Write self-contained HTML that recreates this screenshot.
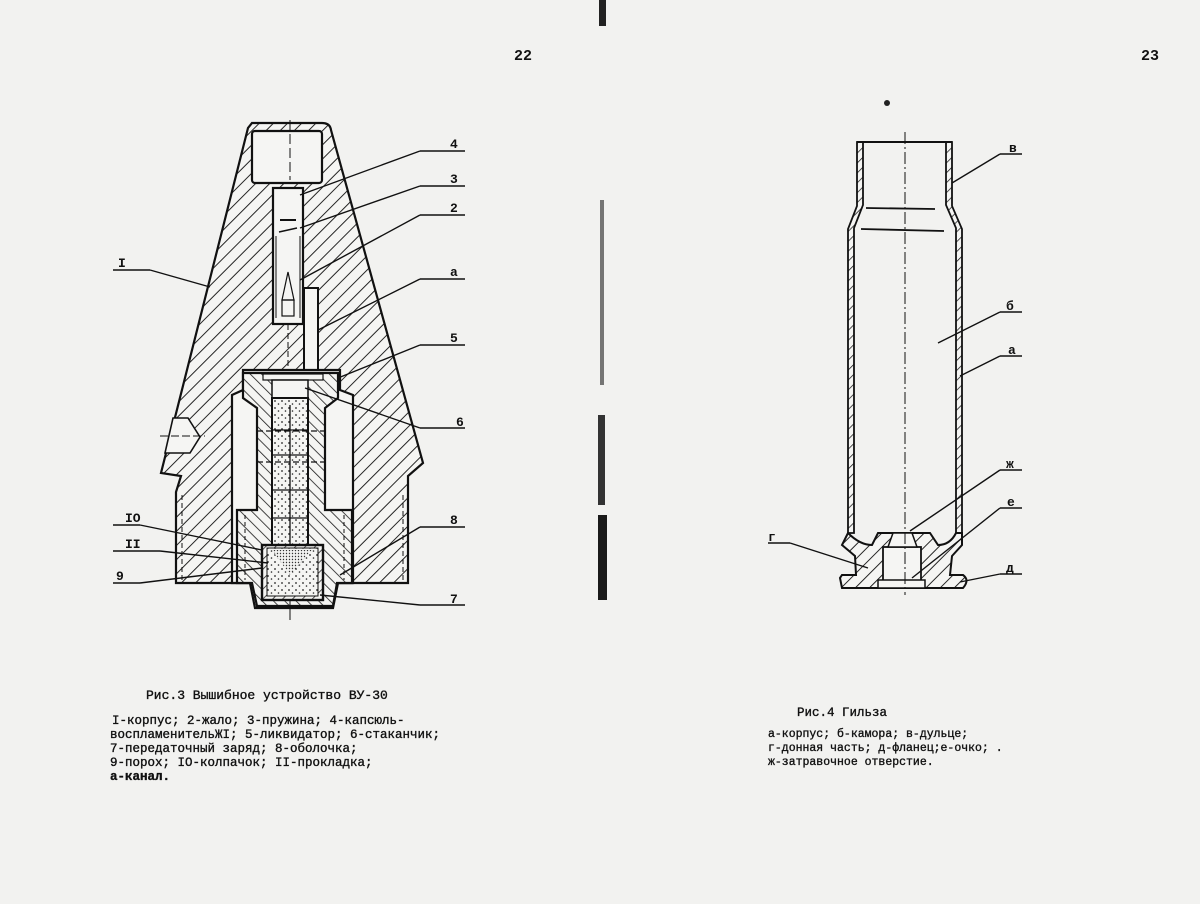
<!DOCTYPE html>
<html><head><meta charset="utf-8">
<style>
html,body{margin:0;padding:0;background:#f2f2f0;}
svg{display:block}
text{font-family:"Liberation Mono","DejaVu Sans Mono",monospace;fill:#111}
.cap{stroke:#111;stroke-width:0.35}
</style></head>
<body>
<svg width="1200" height="904" viewBox="0 0 1200 904" xmlns="http://www.w3.org/2000/svg">
<defs>
<pattern id="h1" width="10" height="10" patternUnits="userSpaceOnUse" patternTransform="rotate(45)">
<rect width="10" height="10" fill="#f5f5f3"/><line x1="0" y1="0" x2="0" y2="10" stroke="#1a1a1a" stroke-width="1.9"/></pattern>
<pattern id="h2" width="8" height="8" patternUnits="userSpaceOnUse" patternTransform="rotate(-45)">
<rect width="8" height="8" fill="#f5f5f3"/><line x1="0" y1="0" x2="0" y2="8" stroke="#1a1a1a" stroke-width="1.6"/></pattern>
<pattern id="h3" width="7" height="7" patternUnits="userSpaceOnUse" patternTransform="rotate(45)">
<rect width="7" height="7" fill="#f5f5f3"/><line x1="0" y1="0" x2="0" y2="7" stroke="#1a1a1a" stroke-width="1.5"/></pattern>
<pattern id="dots" width="7" height="7" patternUnits="userSpaceOnUse">
<rect width="7" height="7" fill="#f5f5f3"/><circle cx="2" cy="2" r="0.9" fill="#222"/><circle cx="5.5" cy="5" r="0.8" fill="#222"/></pattern>
<pattern id="fine" width="3" height="3" patternUnits="userSpaceOnUse">
<rect width="3" height="3" fill="#f2f2f0"/><circle cx="1.5" cy="1.5" r="0.7" fill="#333"/></pattern>
</defs>

<!-- binding marks -->
<rect x="599" y="0" width="7" height="26" fill="#222"/>
<rect x="600" y="200" width="4" height="185" fill="#555" opacity="0.8"/>
<rect x="598" y="415" width="7" height="90" fill="#333"/>
<rect x="598" y="515" width="9" height="85" fill="#1a1a1a"/>
<circle cx="887" cy="103" r="3" fill="#222"/>

<!-- page numbers -->
<text x="514" y="60" font-size="15" font-weight="bold">22</text>
<text x="1141" y="60" font-size="15" font-weight="bold">23</text>

<!-- ============ LEFT FIGURE ============ -->
<path d="M252,123 L322,123 Q330,123 331,130 L423,463 L408,476 L408,583 L338,583 L333,608 L255,608 L250,583 L176,583 L176,492 L181,476 L161,473 L248,128 Z" fill="url(#h1)" stroke="#111" stroke-width="2.2"/>
<path d="M173,418 L188,418 L200,437 L190,453 L165,453 Z" fill="#f5f5f3" stroke="#111" stroke-width="1.6"/>
<line x1="160" y1="436" x2="205" y2="436" stroke="#111" stroke-width="1" stroke-dasharray="8,3"/>
<line x1="182" y1="495" x2="182" y2="580" stroke="#111" stroke-width="1" stroke-dasharray="5,3"/>
<line x1="403" y1="495" x2="403" y2="580" stroke="#111" stroke-width="1" stroke-dasharray="5,3"/>
<rect x="252" y="131" width="70" height="52" rx="3" fill="#f5f5f3" stroke="#111" stroke-width="2.2"/>
<rect x="273" y="188" width="30" height="136" fill="#f5f5f3" stroke="#111" stroke-width="2.2"/>
<line x1="280" y1="220" x2="296" y2="220" stroke="#111" stroke-width="2"/>
<line x1="279" y1="232" x2="297" y2="228" stroke="#111" stroke-width="1.5"/>
<path d="M288,272 L282,300 L294,300 Z" fill="none" stroke="#111" stroke-width="1.2"/>
<rect x="282" y="300" width="12" height="16" fill="none" stroke="#111" stroke-width="1.2"/>
<line x1="276" y1="236" x2="276" y2="318" stroke="#111" stroke-width="1"/>
<line x1="300" y1="236" x2="300" y2="318" stroke="#111" stroke-width="1"/>
<rect x="304" y="288" width="14" height="84" fill="#f5f5f3" stroke="#111" stroke-width="2"/>
<line x1="288" y1="324" x2="288" y2="372" stroke="#111" stroke-width="1" stroke-dasharray="6,3"/>
<path d="M243,370 L340,370 L340,390 L353,395 L353,583 L232,583 L232,395 L243,390 Z" fill="#f5f5f3" stroke="#111" stroke-width="2.2"/>
<path d="M243,373 L338,373 L338,398 L325,408 L325,510 L352,510 L352,583 L337,583 L333,606 L257,606 L252,583 L237,583 L237,510 L257,510 L257,408 L243,398 Z" fill="url(#h2)" stroke="#111" stroke-width="2.2"/>
<line x1="245" y1="515" x2="245" y2="580" stroke="#111" stroke-width="1" stroke-dasharray="4,3"/>
<line x1="344" y1="515" x2="344" y2="580" stroke="#111" stroke-width="1" stroke-dasharray="4,3"/>
<rect x="263" y="374" width="60" height="6" fill="#f5f5f3" stroke="#111" stroke-width="1.2"/>
<rect x="272" y="380" width="36" height="18" fill="#f5f5f3" stroke="#111" stroke-width="1.5"/>
<rect x="272" y="398" width="36" height="147" fill="url(#dots)" stroke="#111" stroke-width="2"/>
<g stroke="#111" stroke-width="1.3">
<line x1="272" y1="430" x2="308" y2="430"/><line x1="272" y1="455" x2="308" y2="455"/>
<line x1="272" y1="490" x2="308" y2="490"/><line x1="272" y1="518" x2="308" y2="518"/>
<line x1="290" y1="405" x2="290" y2="545"/>
<line x1="257" y1="431" x2="325" y2="431" stroke-dasharray="6,3"/>
<line x1="257" y1="462" x2="325" y2="462" stroke-dasharray="6,3"/>
</g>
<rect x="262" y="545" width="61" height="55" fill="url(#h3)" stroke="#111" stroke-width="2.4"/>
<rect x="267" y="548" width="51" height="48" fill="url(#dots)" stroke="#111" stroke-width="1"/>
<path d="M272,550 L290,575 L312,550 Z" fill="url(#fine)"/>
<line x1="290" y1="120" x2="290" y2="180" stroke="#111" stroke-width="1" stroke-dasharray="10,4"/>
<line x1="290" y1="600" x2="290" y2="620" stroke="#111" stroke-width="1"/>

<g stroke="#111" stroke-width="1.4" fill="none">
<line x1="420" y1="151" x2="465" y2="151"/><line x1="420" y1="151" x2="300" y2="195"/>
<line x1="420" y1="186" x2="465" y2="186"/><line x1="420" y1="186" x2="300" y2="228"/>
<line x1="420" y1="215" x2="465" y2="215"/><line x1="420" y1="215" x2="300" y2="280"/>
<line x1="420" y1="279" x2="465" y2="279"/><line x1="420" y1="279" x2="318" y2="330"/>
<line x1="420" y1="345" x2="465" y2="345"/><line x1="420" y1="345" x2="338" y2="378"/>
<line x1="420" y1="428" x2="465" y2="428"/><line x1="420" y1="428" x2="305" y2="388"/>
<line x1="420" y1="527" x2="465" y2="527"/><line x1="420" y1="527" x2="340" y2="575"/>
<line x1="420" y1="605" x2="465" y2="605"/><line x1="420" y1="605" x2="320" y2="595"/>
<line x1="113" y1="270" x2="150" y2="270"/><line x1="150" y1="270" x2="210" y2="287"/>
<line x1="113" y1="525" x2="140" y2="525"/><line x1="140" y1="525" x2="262" y2="550"/>
<line x1="113" y1="551" x2="160" y2="551"/><line x1="160" y1="551" x2="268" y2="563"/>
<line x1="113" y1="583" x2="140" y2="583"/><line x1="140" y1="583" x2="262" y2="568"/>
</g>
<g font-size="13" font-weight="bold">
<text x="450" y="148">4</text><text x="450" y="183">3</text><text x="450" y="212">2</text>
<text x="450" y="276">а</text><text x="450" y="342">5</text><text x="456" y="426">6</text>
<text x="450" y="524">8</text><text x="450" y="603">7</text>
<text x="118" y="267">I</text><text x="125" y="522">IO</text><text x="125" y="548">II</text><text x="116" y="580">9</text>
</g>

<text x="146" y="699" font-size="13" class="cap">Рис.3 Вышибное устройство ВУ-30</text>
<g font-size="12.5" class="cap">
<text x="112" y="724">I-корпус; 2-жало; 3-пружина; 4-капсюль-</text>
<text x="110" y="738">воспламенительЖI; 5-ликвидатор; 6-стаканчик;</text>
<text x="110" y="752">7-передаточный заряд; 8-оболочка;</text>
<text x="110" y="766">9-порох; IO-колпачок; II-прокладка;</text>
<text x="110" y="780" font-weight="bold">а-канал.</text>
</g>

<!-- ============ RIGHT FIGURE ============ -->
<path d="M857,142 L863,142 L863,205 L854,228 L854,533 L848,533 L848,229 L857,206 Z" fill="url(#h3)" stroke="#111" stroke-width="1.8"/>
<path d="M946,142 L952,142 L952,206 L962,229 L962,533 L956,533 L956,228 L946,205 Z" fill="url(#h3)" stroke="#111" stroke-width="1.8"/>
<line x1="857" y1="142" x2="952" y2="142" stroke="#111" stroke-width="2"/>
<line x1="866" y1="208" x2="935" y2="209" stroke="#111" stroke-width="1.8"/>
<line x1="861" y1="229" x2="944" y2="231" stroke="#111" stroke-width="1.8"/>
<path d="M848,533 Q860,545 872,545 L878,533 L930,533 L938,545 Q950,545 956,533 L962,533 L962,545 L952,556 L950,575 L963,575 Q970,580 963,588 L842,588 L840,578 L842,575 L856,575 L855,556 L842,545 Z" fill="url(#h1)" stroke="#111" stroke-width="2"/>
<rect x="883" y="547" width="38" height="36" fill="#f5f5f3" stroke="#111" stroke-width="1.8"/>
<rect x="878" y="580" width="47" height="8" fill="#f5f5f3" stroke="#111" stroke-width="1.5"/>
<path d="M893,533 L912,533 L917,547 L888,547 Z" fill="#f5f5f3" stroke="#111" stroke-width="1.5"/>
<line x1="905" y1="132" x2="905" y2="595" stroke="#111" stroke-width="1" stroke-dasharray="12,3,2,3"/>
<g stroke="#111" stroke-width="1.4" fill="none">
<line x1="1000" y1="154" x2="1022" y2="154"/><line x1="1000" y1="154" x2="952" y2="183"/>
<line x1="1000" y1="312" x2="1022" y2="312"/><line x1="1000" y1="312" x2="938" y2="343"/>
<line x1="1000" y1="356" x2="1022" y2="356"/><line x1="1000" y1="356" x2="960" y2="376"/>
<line x1="1000" y1="470" x2="1022" y2="470"/><line x1="1000" y1="470" x2="910" y2="531"/>
<line x1="1000" y1="508" x2="1022" y2="508"/><line x1="1000" y1="508" x2="912" y2="578"/>
<line x1="1000" y1="574" x2="1022" y2="574"/><line x1="1000" y1="574" x2="960" y2="582"/>
<line x1="768" y1="543" x2="790" y2="543"/><line x1="790" y1="543" x2="868" y2="568"/>
</g>
<g font-size="13" font-weight="bold">
<text x="1009" y="152">в</text><text x="1006" y="310">б</text><text x="1008" y="354">а</text>
<text x="1006" y="468">ж</text><text x="1007" y="506">е</text><text x="1006" y="572">д</text>
<text x="768" y="541">г</text>
</g>
<text x="797" y="716" font-size="12.5" class="cap">Рис.4 Гильза</text>
<g font-size="11.5" class="cap">
<text x="768" y="737">а-корпус; б-камора; в-дульце;</text>
<text x="768" y="751">г-донная часть; д-фланец;е-очко; .</text>
<text x="768" y="765">ж-затравочное отверстие.</text>
</g>
</svg>
</body></html>
